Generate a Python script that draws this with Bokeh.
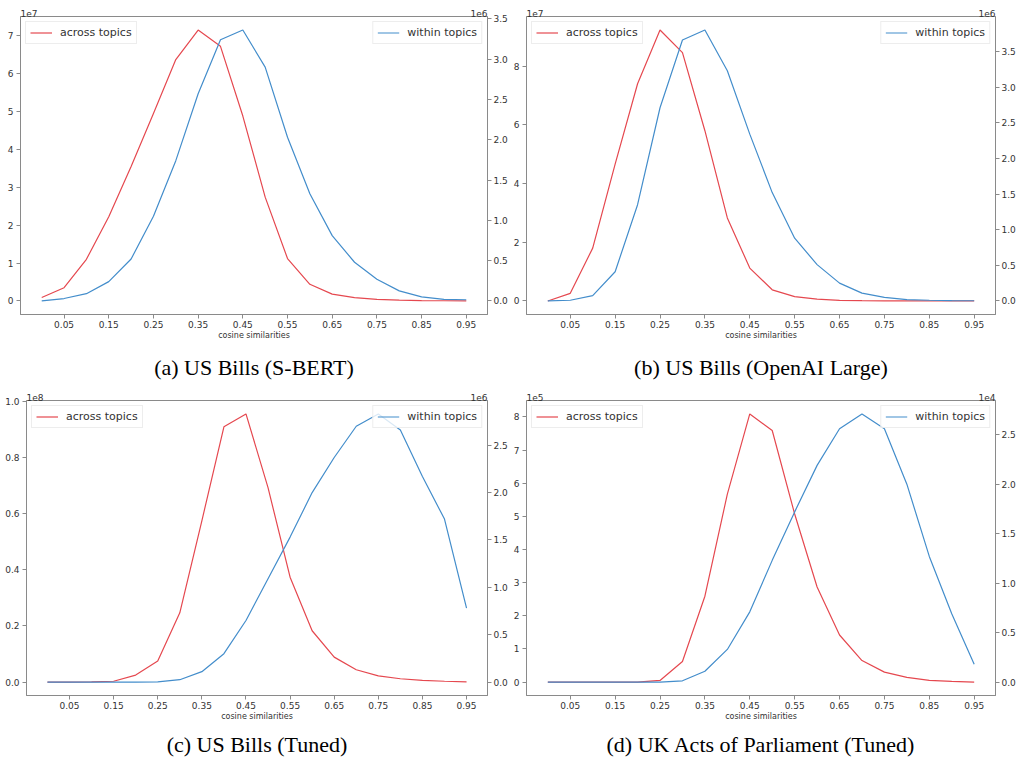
from bokeh.plotting import figure
from bokeh.models import (Range1d, LinearAxis, FixedTicker, PrintfTickFormatter,
                          CustomJSTickFormatter, Legend, LegendItem, Title)
from bokeh.layouts import column, row
from bokeh.embed import file_html
from bokeh.resources import INLINE

# ---------------- data ----------------
x = [0.00, 0.05, 0.10, 0.15, 0.20, 0.25, 0.30, 0.35, 0.40, 0.45,
     0.50, 0.55, 0.60, 0.65, 0.70, 0.75, 0.80, 0.85, 0.90, 0.95]
x_ticks = [0.05, 0.15, 0.25, 0.35, 0.45, 0.55, 0.65, 0.75, 0.85, 0.95]

# (a) US Bills (S-BERT): across x1e7, within x1e6
a_across = [0.09, 0.35, 1.10, 2.22, 3.55, 4.95, 6.37, 7.15, 6.72, 4.88,
            2.74, 1.12, 0.44, 0.18, 0.09, 0.04, 0.02, 0.01, 0.005, 0.0]
a_within = [0.0, 0.03, 0.09, 0.24, 0.52, 1.05, 1.74, 2.57, 3.24, 3.36,
            2.90, 2.03, 1.33, 0.81, 0.48, 0.27, 0.125, 0.05, 0.02, 0.015]
a_left_ticks = [0, 1, 2, 3, 4, 5, 6, 7]
a_right_ticks = [0.0, 0.5, 1.0, 1.5, 2.0, 2.5, 3.0, 3.5]

# (b) US Bills (OpenAI Large): across x1e7, within x1e6
b_across = [0.0, 0.26, 1.80, 4.66, 7.40, 9.23, 8.46, 5.80, 2.83, 1.12,
            0.38, 0.15, 0.06, 0.02, 0.01, 0.005, 0.0, 0.0, 0.0, 0.0]
b_within = [0.0, 0.01, 0.075, 0.41, 1.35, 2.71, 3.66, 3.80, 3.23, 2.34,
            1.52, 0.88, 0.51, 0.25, 0.11, 0.05, 0.02, 0.01, 0.005, 0.003]
b_left_ticks = [0, 2, 4, 6, 8]
b_right_ticks = [0.0, 0.5, 1.0, 1.5, 2.0, 2.5, 3.0, 3.5]

# (c) US Bills (Tuned): across x1e8, within x1e6
c_across = [0.0, 0.0, 0.0005, 0.003, 0.025, 0.075, 0.247, 0.575, 0.91, 0.956,
            0.693, 0.374, 0.183, 0.089, 0.044, 0.022, 0.012, 0.006, 0.003, 0.001]
c_within = [0.0, 0.0, 0.0, 0.0, 0.0, 0.003, 0.025, 0.11, 0.30, 0.65,
            1.09, 1.53, 2.00, 2.37, 2.70, 2.83, 2.66, 2.17, 1.72, 0.78]
c_left_ticks = [0.0, 0.2, 0.4, 0.6, 0.8, 1.0]
c_right_ticks = [0.0, 0.5, 1.0, 1.5, 2.0, 2.5]

# (d) UK Acts of Parliament (Tuned): across x1e5, within x1e4
d_across = [0.0, 0.0, 0.0, 0.0, 0.0, 0.05, 0.62, 2.59, 5.67, 8.09,
            7.59, 5.07, 2.87, 1.42, 0.65, 0.30, 0.14, 0.05, 0.02, 0.0]
d_within = [0.0, 0.0, 0.0, 0.0, 0.0, 0.0, 0.013, 0.11, 0.33, 0.71,
            1.23, 1.72, 2.19, 2.56, 2.71, 2.56, 2.00, 1.27, 0.69, 0.18]
d_left_ticks = [0, 1, 2, 3, 4, 5, 6, 7, 8]
d_right_ticks = [0.0, 0.5, 1.0, 1.5, 2.0, 2.5]

RED = "#e5484f"
BLUE = "#438dcb"
SPINE = "#8a8a8a"
TXT = "#333333"


def pad_range(vals):
    lo, hi = min(vals), max(vals)
    d = hi - lo
    return lo - 0.05 * d, hi + 0.05 * d


def style_axis(ax, ticks, fmt=None, standoff=3):
    ax.ticker = FixedTicker(ticks=ticks)
    if fmt is not None:
        ax.formatter = PrintfTickFormatter(format=fmt)
    ax.major_label_text_font = "DejaVu Sans"
    ax.major_label_text_font_size = "9px"
    ax.major_label_text_color = TXT
    ax.major_label_standoff = standoff
    ax.major_tick_out = 4
    ax.major_tick_in = 0
    ax.minor_tick_out = 0
    ax.minor_tick_in = 0
    ax.axis_line_color = SPINE
    ax.major_tick_line_color = SPINE


def make_panel(across, within, lexp, rexp, lticks, rticks, lfmt, rfmt,
               caption, width, height, mbl, mbr, mbt, mbb, cap_standoff):
    xs, xe = pad_range(x)
    ly0, ly1 = pad_range(across)
    ry0, ry1 = pad_range(within)
    p = figure(width=width, height=height, output_backend="svg",
               toolbar_location=None, x_range=Range1d(xs, xe),
               y_range=Range1d(ly0, ly1),
               min_border_left=mbl, min_border_right=mbr,
               min_border_top=mbt, min_border_bottom=mbb)
    p.extra_y_ranges = {"right": Range1d(ry0, ry1)}
    p.grid.visible = False
    p.outline_line_color = SPINE
    p.background_fill_color = "white"
    p.border_fill_color = "white"

    style_axis(p.xaxis[0], x_ticks, "%.2f", standoff=2)
    p.xaxis[0].axis_label = "cosine similarities"
    p.xaxis[0].axis_label_text_font = "DejaVu Sans"
    p.xaxis[0].axis_label_text_font_size = "8px"
    p.xaxis[0].axis_label_text_font_style = "normal"
    p.xaxis[0].axis_label_text_color = TXT
    p.xaxis[0].axis_label_standoff = 0
    style_axis(p.yaxis[0], lticks, lfmt)

    rax = LinearAxis(y_range_name="right")
    style_axis(rax, rticks, rfmt, standoff=2)
    p.add_layout(rax, "right")

    # scale factors ("1e7", "1e6") shown above the frame corners, as matplotlib does
    frame_w = width - mbl - mbr - 10
    half = 8.5 * (xe - xs) / frame_w
    top = LinearAxis(ticker=FixedTicker(ticks=[xs + half, xe - half]),
                     formatter=CustomJSTickFormatter(
                         args=dict(l=lexp, r=rexp),
                         code="return index == 0 ? l : r;"))
    top.major_label_text_font = "DejaVu Sans"
    top.major_label_text_font_size = "9px"
    top.major_label_text_color = TXT
    top.major_label_standoff = 0
    top.major_tick_out = 0
    top.major_tick_in = 0
    top.minor_tick_out = 0
    top.minor_tick_in = 0
    top.axis_line_color = None
    p.add_layout(top, "above")

    r1 = p.line(x, across, line_color=RED, line_width=1.2)
    r2 = p.line(x, within, line_color=BLUE, line_width=1.2, y_range_name="right")

    for lab, rend, loc in (("across topics", r1, "top_left"),
                           ("within topics", r2, "top_right")):
        lg = Legend(items=[LegendItem(label=lab, renderers=[rend])], location=loc)
        lg.label_text_font = "DejaVu Sans"
        lg.label_text_font_size = "11px"
        lg.label_text_color = TXT
        lg.border_line_color = "#dcdcdc"
        lg.background_fill_alpha = 0.8
        lg.glyph_width = 22
        lg.glyph_height = 11
        lg.label_height = 11
        lg.padding = 4
        lg.margin = 5
        lg.label_standoff = 8
        p.add_layout(lg)

    p.add_layout(Title(text=caption, text_font="Liberation Serif",
                       text_font_size="22px", text_font_style="normal",
                       text_color="black", align="center",
                       standoff=cap_standoff), "below")
    return p


pa = make_panel(a_across, a_within, "1e7", "1e6", a_left_ticks, a_right_ticks,
                "%d", "%.1f", "(a) US Bills (S-BERT)",
                510, 390, 20, 14, 16, 70, 21)
pb = make_panel(b_across, b_within, "1e7", "1e6", b_left_ticks, b_right_ticks,
                "%d", "%.1f", "(b) US Bills (OpenAI Large)",
                508, 390, 16, 14, 16, 70, 21)
pc = make_panel(c_across, c_within, "1e8", "1e6", c_left_ticks, c_right_ticks,
                "%.1f", "%.1f", "(c) US Bills (Tuned)",
                510, 373, 26, 14, 8, 60, 13)
pd = make_panel(d_across, d_within, "1e5", "1e4", d_left_ticks, d_right_ticks,
                "%d", "%.1f", "(d) UK Acts of Parliament (Tuned)",
                508, 373, 16, 14, 8, 60, 13)

layout = column(row(pa, pb, spacing=0), row(pc, pd, spacing=0), spacing=0)

open("out.html", "w").write(file_html(layout, INLINE))
